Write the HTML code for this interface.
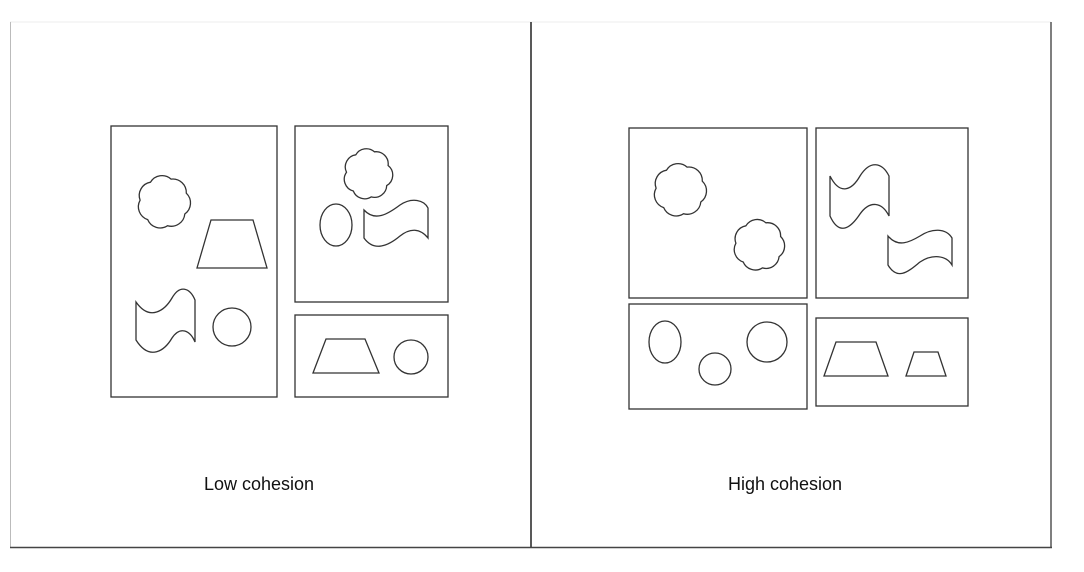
<!DOCTYPE html>
<html><head><meta charset="utf-8"><style>
html,body{margin:0;padding:0;background:#fff;}
svg{display:block}
text{font-family:"Liberation Sans",sans-serif;font-size:18px;fill:#111}
</style></head><body>
<svg id="s" width="1084" height="572" viewBox="0 0 1084 572" xmlns="http://www.w3.org/2000/svg">
<line x1="10" y1="22" x2="1051" y2="22" stroke="#eee" stroke-width="1"/>
<line x1="10.5" y1="22" x2="10.5" y2="548" stroke="#bbb" stroke-width="1"/>
<line x1="531" y1="22" x2="531" y2="548" stroke="#222" stroke-width="1.5"/>
<line x1="1051" y1="22" x2="1051" y2="548" stroke="#555" stroke-width="1.5"/>
<line x1="10" y1="547.5" x2="1052" y2="547.5" stroke="#444" stroke-width="1.5"/>
<g fill="none" stroke="#333" stroke-width="1.3" id="g">
<rect x="111" y="126" width="166" height="271"/>
<rect x="295" y="126" width="153" height="176"/>
<rect x="295" y="315" width="153" height="82"/>
<polygon points="211,220 253,220 267,268 197,268"/>
<circle cx="232" cy="327" r="19"/>
<path d="M136,302 C150,322 165,310 172,298 C180,284 190,288 195,300 L195,342 C190,330 180,326 172,338 C165,350 150,362 136,340 Z"/>
<ellipse cx="336" cy="225" rx="16" ry="21"/>
<path d="M364,210 C375,222 388,214 400,205 C412,197 424,200 428,208 L428,238 C420,228 410,228 400,236 C388,246 374,252 364,238 Z"/>
<polygon points="326,339 365,339 379,373 313,373"/>
<circle cx="411" cy="357" r="17"/>

<rect x="629" y="128" width="178" height="170"/>
<rect x="816" y="128" width="152" height="170"/>
<rect x="629" y="304" width="178" height="105"/>
<rect x="816" y="318" width="152" height="88"/>
<path d="M830,176 C840,196 852,190 860,176 C870,160 882,162 889,176 L889,216 C882,202 870,200 860,214 C852,226 840,238 830,216 Z"/>
<path d="M888,236 C898,248 910,242 920,236 C932,228 946,228 952,238 L952,265 C946,255 932,254 920,262 C910,270 898,282 888,265 Z"/>
<ellipse cx="665" cy="342" rx="16" ry="21"/>
<circle cx="715" cy="369" r="16"/>
<circle cx="767" cy="342" r="20"/>
<polygon points="836,342 876,342 888,376 824,376"/>
<polygon points="914,352 938,352 946,376 906,376"/>
</g>
<text x="259" y="490" text-anchor="middle">Low cohesion</text>
<text x="785" y="490" text-anchor="middle">High cohesion</text>
</svg>
<script>
(function(){
var g=document.getElementById('g');
function cloud(cx,cy,rx,ry){
 var n=7,d='',r=Math.min(rx,ry)*0.45;
 for(var i=0;i<=n;i++){
  var a=-Math.PI/2+i*2*Math.PI/n+0.3;
  var x=cx+rx*0.8*Math.cos(a),y=cy+ry*0.8*Math.sin(a);
  if(i==0)d+='M'+x.toFixed(1)+','+y.toFixed(1);
  else d+=' A'+r.toFixed(1)+','+r.toFixed(1)+' 0 0 1 '+x.toFixed(1)+','+y.toFixed(1);
 }
 var p=document.createElementNS('http://www.w3.org/2000/svg','path');
 p.setAttribute('d',d+'Z');g.appendChild(p);
}
cloud(164,202,30,30);
cloud(368,174,27,29);
cloud(680,190,30,30);
cloud(759,245,29,29);
})();
</script>
</body></html>
